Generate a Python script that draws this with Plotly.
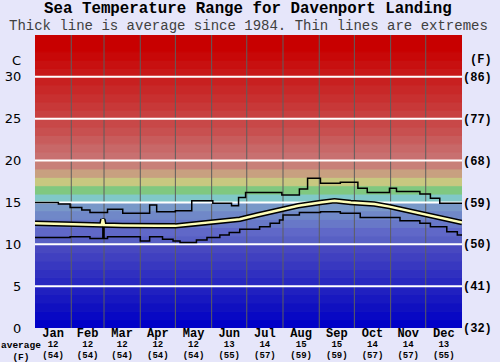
import plotly.graph_objects as go

# ---------------- data ----------------
months = ["Jan", "Feb", "Mar", "Apr", "May", "Jun", "Jul", "Aug", "Sep", "Oct", "Nov", "Dec"]
month_avg_c = [12, 12, 12, 12, 12, 13, 14, 15, 15, 14, 14, 13]
month_avg_f = [54, 54, 54, 54, 54, 55, 57, 59, 59, 57, 57, 55]
month_start_day = [0, 31, 59, 90, 120, 151, 181, 212, 243, 273, 304, 334, 365]

c_ticks = [0, 5, 10, 15, 20, 25, 30]
f_ticks = ["(32)", "(41)", "(50)", "(59)", "(68)", "(77)", "(86)"]

# upper extreme (day of year, deg C) - stepped
max_day = [0, 20, 30, 40, 47, 62, 75, 98, 104, 120, 134, 152, 168, 174, 180, 211, 226, 233, 244, 261, 276, 284, 303, 309, 329, 338, 346, 352, 365]
max_c =   [15.0, 14.8, 14.4, 14.1, 13.8, 14.2, 13.7, 14.7, 13.9, 14.0, 15.2, 14.9, 14.6, 15.6, 16.2, 15.9, 16.6, 17.9, 17.3, 17.4, 16.7, 16.2, 16.7, 16.3, 16.0, 15.5, 14.9, 14.9, 14.9]

# lower extreme (day of year, deg C) - stepped
min_day = [0, 30, 47, 58, 59, 62, 90, 98, 109, 118, 124, 138, 147, 158, 166, 175, 192, 201, 209, 212, 226, 244, 261, 278, 303, 312, 329, 338, 352, 361, 365]
min_c =   [10.8, 10.9, 10.7, 13.0, 10.7, 10.9, 10.4, 10.9, 10.6, 10.4, 10.2, 10.5, 10.8, 11.1, 11.4, 11.8, 12.1, 12.5, 12.9, 13.5, 13.8, 13.9, 13.7, 13.2, 13.2, 12.8, 12.5, 12.1, 11.5, 11.1, 11.1]

# average
avg_day = [0, 15, 30, 45, 57, 58, 59, 75, 90, 105, 120, 134, 150, 165, 175, 190, 209, 225, 244, 256, 270, 290, 303, 320, 338, 352, 365]
avg_c =   [12.5, 12.45, 12.4, 12.35, 12.3, 13.0, 12.3, 12.25, 12.2, 12.2, 12.2, 12.4, 12.6, 12.8, 13.0, 13.5, 14.1, 14.6, 15.0, 15.2, 15.0, 14.8, 14.5, 14.0, 13.4, 13.0, 12.6]

# ---------------- styling ----------------
band_colors = [
    "#0000c8", "#0808c4", "#1010c0", "#1818c0", "#2020c0",
    "#2828c0", "#3030c0", "#3838c0", "#4040c0", "#4848c0",
    "#5860c4", "#6068c8", "#6878c8", "#7088c8", "#7898c8",
    "#80c8c8", "#80c880", "#c8c880", "#c8a080", "#c88078",
    "#c87070", "#c86868", "#c85c5c", "#c85050", "#c84848",
    "#c84040", "#c83838", "#c83030", "#c82828", "#c82020",
    "#c81818", "#c81010", "#c80808", "#c80000", "#c80000",
]
BG = "#e6e6fa"
mono = "Liberation Mono, Courier New, monospace"

fig = go.Figure()

shapes = []
for i, col in enumerate(band_colors):
    shapes.append(dict(type="rect", xref="x", yref="y", x0=0, x1=365, y0=i, y1=i + 1,
                       fillcolor=col, line=dict(color=col, width=1), layer="below"))
for d in month_start_day[1:-1]:
    shapes.append(dict(type="line", xref="x", yref="y", x0=d, x1=d, y0=0, y1=35,
                       line=dict(color="#5e5e5e", width=1), layer="below"))
for v in c_ticks[1:]:
    shapes.append(dict(type="line", xref="x", yref="y", x0=0, x1=365, y0=v, y1=v,
                       line=dict(color="#ffffff", width=2), layer="below"))

fig.add_trace(go.Scatter(x=max_day, y=max_c, mode="lines", line=dict(color="black", width=1.5, shape="hv"),
                         hoverinfo="skip", showlegend=False))
fig.add_trace(go.Scatter(x=min_day, y=min_c, mode="lines", line=dict(color="black", width=1.5, shape="hv"),
                         hoverinfo="skip", showlegend=False))
fig.add_trace(go.Scatter(x=avg_day, y=avg_c, mode="lines", line=dict(color="black", width=5.5),
                         hoverinfo="skip", showlegend=False))
fig.add_trace(go.Scatter(x=avg_day, y=avg_c, mode="lines", line=dict(color="#ffffb8", width=2.5),
                         hoverinfo="skip", showlegend=False))
# invisible trace for right axis
fig.add_trace(go.Scatter(x=[0], y=[0], yaxis="y2", mode="markers", marker=dict(opacity=0),
                         hoverinfo="skip", showlegend=False))

centers = [(month_start_day[i] + month_start_day[i + 1]) / 2 for i in range(12)]
ticktext = [f"<span style='font-size:12px'><b>{m}</b></span><br>"
            f"<span style='font-size:9px'><b>{c}</b></span><br>"
            f"<span style='font-size:9px'><b>({f})</b></span>"
            for m, c, f in zip(months, month_avg_c, month_avg_f)]

fig.update_layout(
    width=500, height=362,
    margin=dict(l=35, r=38, t=35, b=34, autoexpand=False),
    paper_bgcolor=BG, plot_bgcolor=BG,
    shapes=shapes,
    xaxis=dict(range=[0, 365], tickvals=centers, ticktext=ticktext, showgrid=False, zeroline=False,
               ticks="", automargin=False,
               tickfont=dict(family=mono, size=8, color="black"), fixedrange=True),
    yaxis=dict(range=[0, 35], tickvals=c_ticks, showgrid=False, zeroline=False,
               ticks="outside", ticklen=10, tickcolor="rgba(0,0,0,0)", automargin=False,
               tickfont=dict(family="DejaVu Sans", size=13, color="black"), fixedrange=True),
    yaxis2=dict(range=[0, 35], overlaying="y", side="right", tickvals=c_ticks,
                ticktext=[f"<b>{t}</b>" for t in f_ticks], automargin=False,
                showgrid=False, zeroline=False, ticks="",
                tickfont=dict(family=mono, size=12, color="black"), fixedrange=True),
    annotations=[
        dict(text="<b>Sea Temperature Range for Davenport Landing</b>", xref="paper", yref="paper",
             x=0.499, y=1, xanchor="center", yanchor="bottom", yshift=15,
             showarrow=False, font=dict(family=mono, size=15.8, color="black")),
        dict(text="Thick line is average since 1984. Thin lines are extremes", xref="paper", yref="paper",
             x=0.499, y=1, xanchor="center", yanchor="bottom", yshift=-1,
             showarrow=False, font=dict(family=mono, size=14, color="#404040")),
        dict(text="C", xref="paper", yref="y", x=0, y=32, xanchor="right", xshift=-12,
             showarrow=False, font=dict(family="DejaVu Sans", size=13, color="black")),
        dict(text="<b>(F)</b>", xref="paper", yref="y", x=1, y=32, xanchor="left", xshift=6,
             showarrow=False, font=dict(family=mono, size=12, color="black")),
        dict(text="<b>average<br>(F)</b>", xref="paper", yref="paper", x=0, y=0, xanchor="right",
             yanchor="top", xshift=8, yshift=-10, showarrow=False,
             font=dict(family=mono, size=9.5, color="black")),
    ],
)

fig.write_html("out.html", config={"displayModeBar": False},
               post_script="document.body.style.margin='0';document.body.style.background='" + BG + "';")
